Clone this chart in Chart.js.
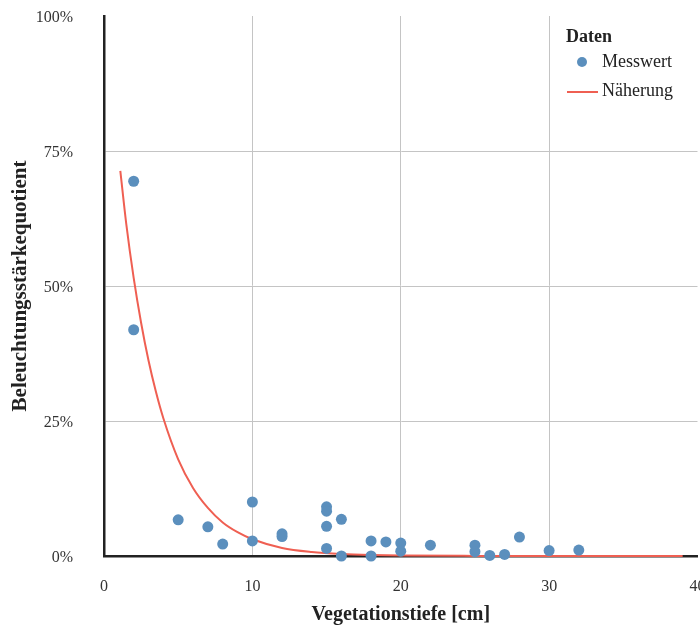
<!DOCTYPE html>
<html>
<head>
<meta charset="utf-8">
<script src="https://cdn.jsdelivr.net/npm/chart.js@4/dist/chart.umd.min.js"></script>
<style>
  html, body { margin: 0; background: #fff; overflow: hidden; }
  #clip { position: relative; width: 700px; height: 627px; overflow: hidden; }
  #wrap { position: absolute; left: 0; top: 0; width: 703px; height: 627px; }
  #legend { position: absolute; left: 566px; top: 26px; font-family: "Liberation Serif", serif; color: #222; }
  #legend .title { font-weight: bold; font-size: 18px; line-height: 20px; height: 20px; margin-bottom: 5px; }
  #legend .row { position: relative; height: 29px; line-height: 20px; font-size: 18px; padding-left: 36px; }
  #legend .dot { position: absolute; left: 11px; top: 6px; width: 10px; height: 10px; border-radius: 50%; background: #5b8fbd; }
  #legend .line { position: absolute; left: 1px; top: 11px; width: 31px; height: 2px; background: #ef5f52; }
</style>
</head>
<body>
<div id="clip">
  <div id="wrap"><canvas id="chart"></canvas></div>
  <div id="legend">
    <div class="title">Daten</div>
    <div class="row"><span class="dot"></span>Messwert</div>
    <div class="row"><span class="line"></span>Näherung</div>
  </div>
</div>
<script>
// Messwerte: Vegetationstiefe [cm] / Beleuchtungsstärkequotient [%]
var depth = [2, 2, 5, 7, 8, 10, 10, 12, 12, 15, 15, 15, 15, 16, 16, 18, 18, 19, 20, 20, 22, 25, 25, 26, 27, 28, 30, 32];
var ratio = [69.4, 41.9, 6.7, 5.4, 2.2, 10.0, 2.8, 4.1, 3.6, 9.1, 8.3, 5.5, 1.4, 6.8, 0.0, 2.8, 0.0, 2.6, 2.4, 0.9, 2.0, 2.0, 0.8, 0.1, 0.3, 3.5, 1.0, 1.1];

// Näherungskurve
var fitDepth = [1.1, 1.5, 2, 2.5, 3, 3.5, 4, 5, 6, 7, 8, 9, 10, 12, 14, 16, 18, 20, 25, 30, 39];
var fitRatio = [71.3, 61.5, 51.5, 43.2, 36.2, 30.4, 25.5, 17.9, 12.6, 8.9, 6.2, 4.4, 3.1, 1.5, 0.75, 0.37, 0.18, 0.09, 0.02, 0, 0];

var xTicks = [0, 10, 20, 30, 40];
var yTicks = [0, 25, 50, 75, 100];

function toPoints(xs, ys) {
    return xs.map(function (x, i) { return { x: x, y: ys[i] }; });
}

var tickFont = { family: 'Liberation Serif', size: 16 };

var chart = new Chart(document.getElementById('chart').getContext('2d'), {
    type: 'scatter',
    data: {
        datasets: [{
            label: 'Messwert',
            data: toPoints(depth, ratio),
            backgroundColor: '#5b8fbd',
            borderColor: '#5b8fbd',
            pointRadius: 5.5,
            pointHoverRadius: 5.5,
            borderWidth: 0,
            clip: false,
            order: 1
        }, {
            label: 'Näherung',
            data: toPoints(fitDepth, fitRatio),
            showLine: true,
            borderColor: '#ef5f52',
            borderWidth: 2,
            pointRadius: 0,
            cubicInterpolationMode: 'monotone',
            clip: false,
            order: 2
        }]
    },
    options: {
        responsive: true,
        maintainAspectRatio: false,
        animation: false,
        layout: { padding: { top: 16, right: 0, bottom: 0, left: 0 } },
        plugins: {
            legend: { display: false },
            tooltip: { enabled: false }
        },
        scales: {
            x: {
                type: 'linear',
                min: 0,
                max: 40,
                afterBuildTicks: function (s) { s.ticks = xTicks.map(function (v) { return { value: v }; }); },
                afterFit: function (s) { s.height = 71; s.paddingLeft = 0; s.paddingRight = 0; },
                ticks: { font: tickFont, color: '#333', padding: 21, maxRotation: 0 },
                grid: {
                    drawTicks: false,
                    lineWidth: 1,
                    color: function (c) { return (c.tick && (c.tick.value === 0 || c.tick.value === 40)) ? 'rgba(0,0,0,0)' : '#c4c4c4'; }
                },
                border: { color: '#222', width: 2.5 },
                title: { display: true, text: 'Vegetationstiefe [cm]', font: { family: 'Liberation Serif', size: 20, weight: 'bold' }, color: '#222', padding: { top: 0, bottom: 0 } }
            },
            y: {
                type: 'linear',
                min: 0,
                max: 100,
                afterBuildTicks: function (s) { s.ticks = yTicks.map(function (v) { return { value: v }; }); },
                afterFit: function (s) { s.width = 104; s.paddingTop = 0; s.paddingBottom = 0; },
                ticks: { font: tickFont, color: '#333', padding: 31, labelOffset: 2, callback: function (v) { return v + '%'; } },
                grid: {
                    drawTicks: false,
                    lineWidth: 1,
                    color: function (c) { return (c.tick && (c.tick.value === 0 || c.tick.value === 100)) ? 'rgba(0,0,0,0)' : '#c4c4c4'; }
                },
                border: { color: '#222', width: 2.5 },
                title: { display: true, text: 'Beleuchtungsstärkequotient', font: { family: 'Liberation Serif', size: 21, weight: 'bold' }, color: '#222', padding: { top: 8, bottom: 0 } }
            }
        }
    }
});
</script>
</body>
</html>
